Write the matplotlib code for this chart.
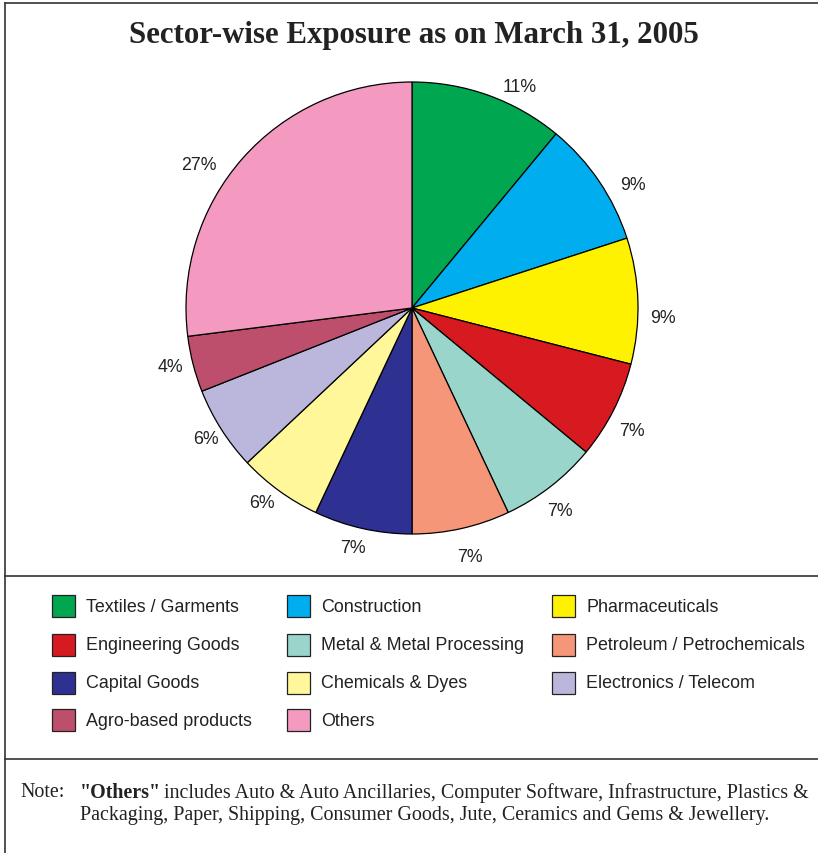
import matplotlib
matplotlib.use("Agg")
import numpy as np
from matplotlib import pyplot as plt
from matplotlib.lines import Line2D
from matplotlib.patches import Rectangle

W, H = 818, 854

sectors = ["Textiles / Garments", "Construction", "Pharmaceuticals",
           "Engineering Goods", "Metal & Metal Processing", "Petroleum / Petrochemicals",
           "Capital Goods", "Chemicals & Dyes", "Electronics / Telecom",
           "Agro-based products", "Others"]
shares = [11, 9, 9, 7, 7, 7, 7, 6, 6, 4, 27]
colors = ["#00a650", "#00aeef", "#fff200", "#d71920", "#99d5ca", "#f69679",
          "#2e3192", "#fff799", "#bbb7dc", "#bd4f6c", "#f49ac1"]

sans = "Liberation Sans"
serif = "Liberation Serif"
ink = "#222222"


def fx(px):
    return px / W


def fy(py):
    return 1 - py / H


fig = plt.figure(figsize=(W / 100, H / 100), dpi=100)
fig.patch.set_facecolor("white")

# pie, centre (412, 309), radius 226 px
cx, cy, r = 412, 309, 226
ax = fig.add_axes([fx(cx - r), fy(cy + r), (2 * r) / W, (2 * r) / H])
wedges, _ = ax.pie(shares, colors=colors, startangle=90, counterclock=False,
                   wedgeprops=dict(edgecolor="black", linewidth=0.9))
ax.set_xlim(-1, 1)
ax.set_ylim(-1, 1)
ax.axis("off")

# percentage labels sit just outside each wedge, hand-nudged a little
nudge = [-6, -5, -4, -2, -1.7, 0.5, -1.2, -1.7, 0, -0.9, 7.5]
dist = [1.09, 1.12, 1.11, 1.115, 1.11, 1.13, 1.093, 1.085, 1.08, 1.10, 1.135]
for w, v, dn, d in zip(wedges, shares, nudge, dist):
    a = np.radians((w.theta1 + w.theta2) / 2 + dn)
    ax.text(d * np.cos(a), d * np.sin(a), f"{v}%", ha="center", va="center",
            fontfamily=sans, fontsize=12.8, color=ink)

fig.text(fx(414), fy(35), "Sector-wise Exposure as on March 31, 2005",
         ha="center", va="center", fontfamily=serif, fontweight="bold",
         fontsize=22.2, color=ink)

# frame and dividers
lk = dict(color="#333333", linewidth=1.2)
fig.add_artist(Line2D([fx(5), fx(5)], [fy(4), fy(854)], **lk))
fig.add_artist(Line2D([fx(5), fx(818)], [fy(4), fy(4)], **lk))
fig.add_artist(Line2D([fx(5), fx(818)], [fy(577), fy(577)], **lk))
fig.add_artist(Line2D([fx(5), fx(818)], [fy(760), fy(760)], **lk))

# legend, 3 columns
col_x = [52, 287, 552]
row_y = [607, 646, 684, 721]
for i, (name, c) in enumerate(zip(sectors, colors)):
    row, col = divmod(i, 3)
    x0, yc = col_x[col], row_y[row]
    fig.add_artist(Rectangle((fx(x0), fy(yc + 11)), 23 / W, 22 / H,
                             facecolor=c, edgecolor=ink, linewidth=0.9,
                             transform=fig.transFigure))
    fig.text(fx(x0 + 34), fy(yc), name, ha="left", va="center",
             fontfamily=sans, fontsize=12.9, color=ink)

# note at the bottom
nfs = 14.4
fig.text(fx(20), fy(793), "Note:", ha="left", va="center",
         fontfamily=serif, fontsize=nfs, color=ink)
bold = fig.text(fx(80), fy(793), '"Others"', ha="left", va="center",
                fontfamily=serif, fontweight="bold", fontsize=nfs, color=ink)
fig.canvas.draw()
bb = bold.get_window_extent(fig.canvas.get_renderer())
fig.text(bb.x1 / W + fx(3), fy(793),
         "includes Auto & Auto Ancillaries, Computer Software, Infrastructure, Plastics &",
         ha="left", va="center", fontfamily=serif, fontsize=nfs, color=ink)
fig.text(fx(80), fy(816),
         "Packaging, Paper, Shipping, Consumer Goods, Jute, Ceramics and Gems & Jewellery.",
         ha="left", va="center", fontfamily=serif, fontsize=nfs, color=ink)

fig.savefig("out.png", dpi=100)
